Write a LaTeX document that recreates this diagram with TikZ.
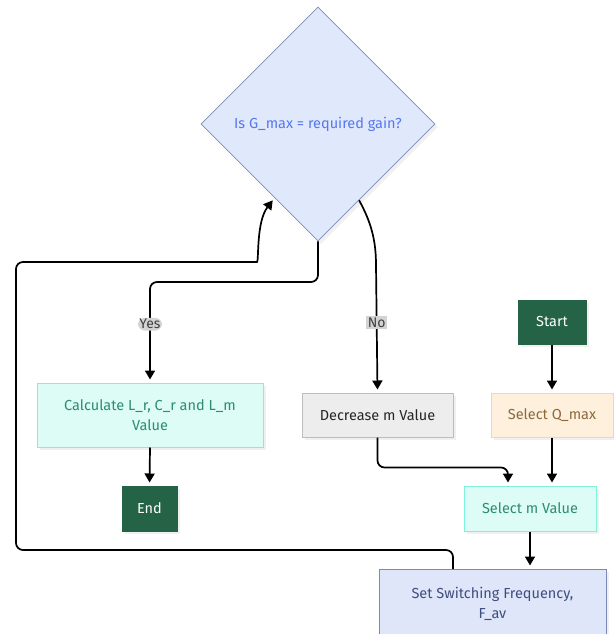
\documentclass[tikz,border=0pt]{standalone}
\usepackage{fontspec}
\setmainfont{Fira Sans}
\usetikzlibrary{shapes.geometric,arrows.meta,shadows,calc}
\definecolor{diafill}{HTML}{E0E8FC}
\definecolor{diadraw}{HTML}{7F8BB0}
\definecolor{diatext}{HTML}{5677EE}
\definecolor{cyfill}{HTML}{DCFCF5}
\definecolor{cydraw}{HTML}{80F0D8}
\definecolor{cytext}{HTML}{2E8B75}
\definecolor{dkgreen}{HTML}{256347}
\definecolor{grfill}{HTML}{EDEDED}
\definecolor{grdraw}{HTML}{BDBDBD}
\definecolor{orfill}{HTML}{FFF0DE}
\definecolor{ordraw}{HTML}{FBD49F}
\definecolor{ortext}{HTML}{8B6A3A}
\definecolor{blfill}{HTML}{DFE6FA}
\definecolor{bldraw}{HTML}{7C88B5}
\definecolor{bltext}{HTML}{3F4E7E}
\definecolor{lblfill}{HTML}{D3D3D3}
\tikzset{
  base/.style={rectangle, line width=1pt, font=\fontsize{14.5}{20}\selectfont, align=center, inner sep=0pt,
    drop shadow={shadow xshift=3pt, shadow yshift=-3pt, fill=black, opacity=0.06}},
  decision/.style={diamond, aspect=1, fill=diafill, draw=diadraw, line width=0.8pt, text=diatext,
    minimum width=234pt, minimum height=234pt, inner sep=0pt, font=\fontsize{14.5}{18}\selectfont,
    drop shadow={shadow xshift=3pt, shadow yshift=-3pt, fill=black, opacity=0.06}},
  cybox/.style={base, fill=cyfill, draw=cydraw, text=cytext},
  termbox/.style={base, fill=dkgreen, draw=dkgreen, text=white},
  greybox/.style={base, fill=grfill, draw=grdraw, text=black!85},
  orbox/.style={base, fill=orfill, draw=ordraw, text=ortext},
  blbox/.style={base, fill=blfill, draw=bldraw, text=bltext},
  arr/.style={line width=1.7pt, -{Triangle[length=9pt,width=10pt]}, shorten >=3pt},
  lbl/.style={fill=lblfill, text=black!75, font=\fontsize{14}{17}\selectfont, inner sep=1.5pt}
}
\begin{document}
\begin{tikzpicture}[x=1pt,y=-1pt]
\useasboundingbox (0,0) rectangle (613,634);
\node[decision] (dia) at (318,124) {Is G\_max = required gain?};
\node[cybox, minimum width=226pt, minimum height=64pt] (calc) at (150,415) {Calculate L\_r, C\_r and L\_m\\Value};
\node[termbox, minimum width=55pt, minimum height=45pt] (end) at (149.5,508.5) {End};
\node[greybox, minimum width=151pt, minimum height=44pt] (dec) at (377.5,415) {Decrease m Value};
\node[termbox, minimum width=68pt, minimum height=44pt] (start) at (552,322) {Start};
\node[orbox, minimum width=122pt, minimum height=44pt] (q) at (552,415) {Select Q\_max};
\node[cybox, minimum width=132pt, minimum height=45pt] (selm) at (530,508.5) {Select m Value};
\node[blbox, minimum width=227pt, minimum height=70pt] (set) at (492.5,604) {Set Switching Frequency,\\F\_av};

\coordinate (nostart) at ($(dia.south)!0.35!(dia.east)$);
\coordinate (loopend) at ($(dia.south)!0.37!(dia.west)$);
\coordinate (decin) at ($(selm.north)+(-22,0)$);

% Start -> Q
\draw[arr] (start) -- (q);
% Q -> Select m
\draw[arr] (q.south) -- (q.south |- selm.north);
% Decrease -> Select m
\draw[arr, rounded corners=7pt] (dec.south) -- ++(0,30) -| (decin);
% Select m -> Set
\draw[arr] (selm.south) -- (selm.south |- set.north);
% Calc -> End
\draw[arr] (calc.south) -- (end.north);
% Yes
\draw[arr, rounded corners=7pt] (dia.south) -- (318,282) -- (150,282) -- node[lbl, pos=0.42]{Yes} (calc.north);
% No
\draw[arr] (nostart) .. controls (371,222) and (376,240) .. (376,265) -- node[lbl, pos=0.45]{No} (dec.north);
% Loop from Set back to decision
\draw[arr, rounded corners=7pt] (453,569) -- (453,550) -- (16,550) -- (16,262) -- (250,262)
  [sharp corners] .. controls (259,262) and (256,222) .. (loopend);
\end{tikzpicture}
\end{document}
